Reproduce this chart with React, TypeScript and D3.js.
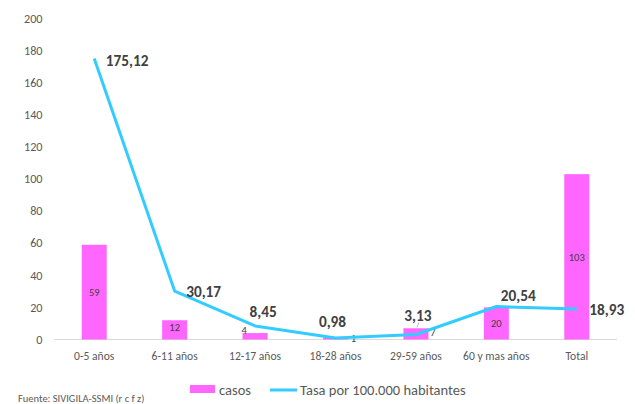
import React from "react";
import * as d3 from "d3";

const categories = ["0-5 años", "6-11 años", "12-17 años", "18-28 años", "29-59 años", "60 y mas años", "Total"];
const casos = [59, 12, 4, 1, 7, 20, 103];
const tasa = [175.12, 30.17, 8.45, 0.98, 3.13, 20.54, 18.93];
const tasaLabels = ["175,12", "30,17", "8,45", "0,98", "3,13", "20,54", "18,93"];
const yTicks = [0, 20, 40, 60, 80, 100, 120, 140, 160, 180, 200];

// label offsets (dx, dy) relative to point / bar centre
const tasaLabelOffsets: [number, number][] = [
  [33, 2], [29, 1], [8, -14], [-3, -16], [2, -18.5], [22, -10.5], [30, 1],
];
const casosLabelOffsets: [number, number][] = [
  [0, 0], [0, -2.5], [-11, -5.5], [18, 0], [17, -1.5], [0, 0], [0, 0],
];

const W = 635;
const H = 404;
const FONT = "Carlito, Calibri, Lato, 'Open Sans', sans-serif";
const PINK = "#ff66ff";
const BLUE = "#33ccff";

export default function App() {
  const x = d3.scaleBand<string>().domain(categories).range([54, 617]);
  const y = d3.scaleLinear().domain([0, 200]).range([339.5, 18.5]);
  const barW = 25;
  const cx = (c: string) => (x(c) as number) + x.bandwidth() / 2;

  const line = d3
    .line<number>()
    .x((_, i) => cx(categories[i]))
    .y((d) => y(d));

  return (
    <svg
      width={W}
      height={H}
      style={{ position: "absolute", left: 0, top: 0, background: "#fff" }}
      fontFamily={FONT}
    >
      {/* y ticks */}
      {yTicks.map((t) => (
        <text key={t} x={42.5} y={y(t)} dy="0.35em" textAnchor="end" fontSize={12.2} fill="#595959">
          {t}
        </text>
      ))}
      {/* axis line */}
      <line x1={54} x2={617} y1={y(0)} y2={y(0)} stroke="#d9d9d9" strokeWidth={1} />
      {/* bars */}
      {categories.map((c, i) => (
        <rect
          key={c}
          x={cx(c) - barW / 2}
          y={y(casos[i])}
          width={barW}
          height={y(0) - y(casos[i])}
          fill={PINK}
        />
      ))}
      {/* x labels */}
      {categories.map((c) => (
        <text key={c} x={cx(c)} y={356} dy="0.35em" textAnchor="middle" fontSize={11.6} fill="#595959">
          {c}
        </text>
      ))}
      {/* bar value labels */}
      {categories.map((c, i) => (
        <text
          key={c}
          x={cx(c) + casosLabelOffsets[i][0]}
          y={(y(casos[i]) + y(0)) / 2 + casosLabelOffsets[i][1]}
          dy="0.35em"
          textAnchor="middle"
          fontSize={10.5}
          fill="#404040"
        >
          {casos[i]}
        </text>
      ))}
      {/* leader line */}
      <line
        x1={cx(categories[4]) + 1}
        y1={y(tasa[4]) - 7}
        x2={cx(categories[4]) + 3}
        y2={y(tasa[4]) - 12}
        stroke="#a6a6a6"
        strokeWidth={0.8}
      />
      {/* tasa line */}
      <path d={line(tasa) as string} fill="none" stroke={BLUE} strokeWidth={3} strokeLinejoin="round" />
      {/* tasa labels */}
      {categories.map((c, i) => (
        <text
          key={c}
          x={cx(c) + tasaLabelOffsets[i][0]}
          y={y(tasa[i]) + tasaLabelOffsets[i][1]}
          dy="0.35em"
          textAnchor="middle"
          fontSize={15.3}
          fontWeight="bold"
          fill="#404040"
        >
          {tasaLabels[i]}
        </text>
      ))}
      {/* legend */}
      <rect x={190} y={385} width={25} height={8} fill={PINK} />
      <text x={219} y={389.5} dy="0.35em" fontSize={14.5} fill="#595959">
        casos
      </text>
      <line x1={270} x2={297} y1={390} y2={390} stroke={BLUE} strokeWidth={3} />
      <text x={300} y={389.5} dy="0.35em" fontSize={14.5} fill="#595959">
        Tasa por 100.000 habitantes
      </text>
      {/* source */}
      <text x={18} y={402} fontSize={10.5} fill="#595959">
        Fuente: SIVIGILA-SSMI (r c f z)
      </text>
    </svg>
  );
}
